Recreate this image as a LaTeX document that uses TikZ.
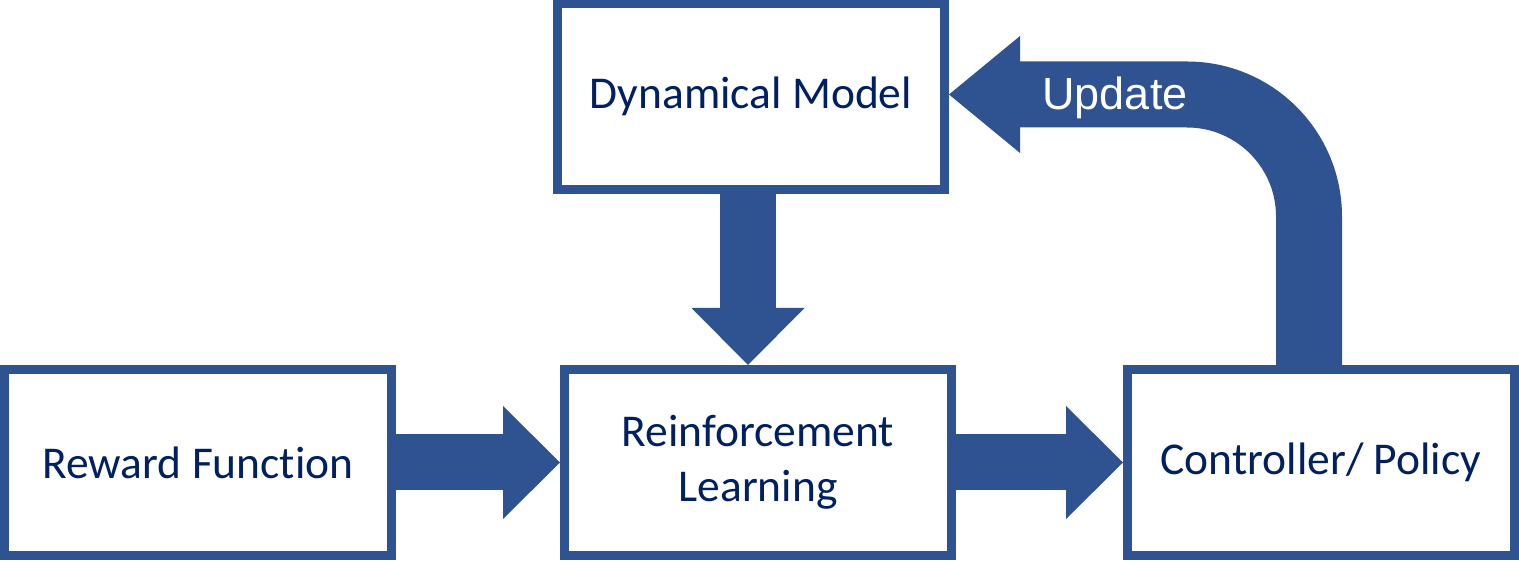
\documentclass[tikz,border=0pt]{standalone}
\usepackage{fontspec}
\setmainfont{Carlito}[Ligatures=NoCommon]
\newfontfamily\updatefont{Liberation Sans}
\usetikzlibrary{positioning,arrows.meta}
\definecolor{boxblue}{HTML}{2F5291}
\definecolor{textnavy}{HTML}{002060}
\tikzset{
  block/.style={draw=boxblue, line width=9pt, fill=white, minimum width=387pt,
    minimum height=186pt, align=center, text=textnavy,
    font=\fontsize{45.5}{55}\selectfont},
  fatarrow/.style={draw=boxblue, line width=56pt,
    -{Triangle[length=57pt, width=113pt, line width=0pt, color=boxblue]}},
}

\begin{document}
\begin{tikzpicture}[x=1pt, y=1pt]
  \useasboundingbox (0,0) rectangle (1519,560);

  \node [block] (rf) at (198,97.5) {Reward Function};
  \node [block, right=164pt of rf] (rl) {Reinforcement\\Learning};
  \node [block, right=167pt of rl] (cp) {Controller/ Policy};
  \node [block, above=171pt of rl, xshift=-7pt] (dm) {Dynamical Model};

  \draw [fatarrow] (rf.east) -- (rl.west);
  \draw [fatarrow] (rl.east) -- (cp.west);
  \draw [fatarrow] ([xshift=-3pt]dm.south) -- ([xshift=-3pt]dm.south |- rl.north);

  % feedback loop
  \draw [draw=boxblue, line width=66pt, rounded corners=122pt,
    -{Triangle[length=71pt, width=117pt, line width=0pt, color=boxblue]}]
    ([xshift=-12pt]cp.north) |- ([yshift=2pt]dm.east);
  \node [text=white, font=\updatefont\fontsize{45}{54}\selectfont, anchor=base]
    (upd) at (1115,450) {Update};
\end{tikzpicture}
\end{document}
